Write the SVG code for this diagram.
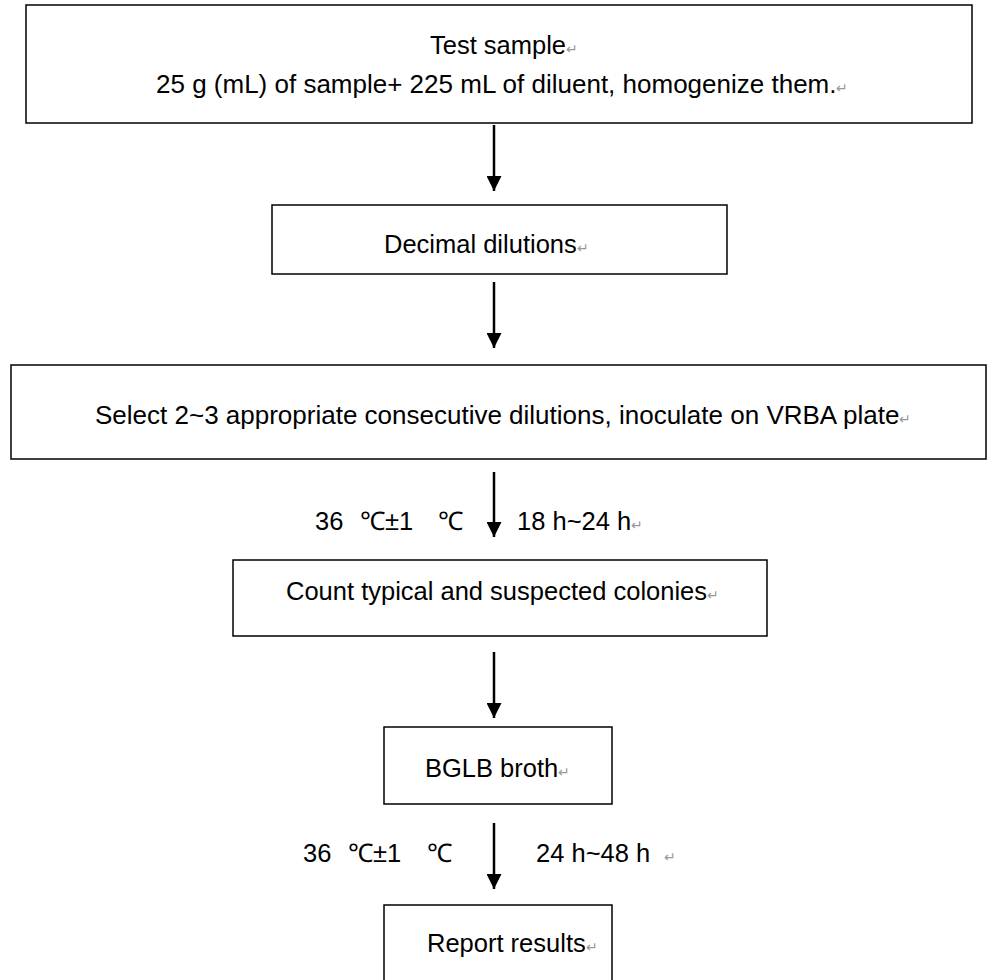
<svg xmlns="http://www.w3.org/2000/svg" width="989" height="980" viewBox="0 0 989 980">
<defs>
<style>
.box{fill:#fff;stroke:#000;stroke-width:1.5}
.t{font-family:"Liberation Sans",Arial,sans-serif;font-size:25.5px;fill:#000}
.w{font-size:26px}
.pm{fill:#999;font-size:14px}
.c{stroke:#000;stroke-width:2.5;fill:none}
</style>
<marker id="ah" viewBox="0 0 10 10" refX="10" refY="5" markerWidth="6" markerHeight="6" markerUnits="strokeWidth" orient="auto">
<path d="M0,0 L10,5 L0,10 Z" fill="#000"/>
</marker>
</defs>
<rect width="989" height="980" fill="#fff"/>
<g id="n1">
<rect class="box" x="26" y="5" width="946" height="118"/>
<text class="t" x="430" y="54">Test sample<tspan class="pm">↵</tspan></text>
<text class="t w" x="156" y="93">25 g (mL) of sample+ 225 mL of diluent, homogenize them.<tspan class="pm">↵</tspan></text>
</g>
<g id="n2">
<rect class="box" x="272" y="205" width="455" height="69"/>
<text class="t" x="384" y="253">Decimal dilutions<tspan class="pm">↵</tspan></text>
</g>
<g id="n3">
<rect class="box" x="11" y="365" width="975" height="94"/>
<text class="t w" x="95" y="424">Select 2~3 appropriate consecutive dilutions, inoculate on VRBA plate<tspan class="pm">↵</tspan></text>
</g>
<g id="n4">
<rect class="box" x="233" y="560" width="534" height="76"/>
<text class="t" x="286" y="600">Count typical and suspected colonies<tspan class="pm">↵</tspan></text>
</g>
<g id="n5">
<rect class="box" x="384" y="727" width="228" height="77"/>
<text class="t" x="425" y="777">BGLB broth<tspan class="pm">↵</tspan></text>
</g>
<g id="n6">
<rect class="box" x="384" y="905" width="228" height="90"/>
<text class="t" x="427" y="952">Report results<tspan class="pm">↵</tspan></text>
</g>
<g id="connectors">
<line class="c" x1="494" y1="125" x2="494" y2="191" marker-end="url(#ah)"/>
<line class="c" x1="494" y1="282" x2="494" y2="348" marker-end="url(#ah)"/>
<line class="c" x1="494" y1="472" x2="494" y2="537" marker-end="url(#ah)"/>
<line class="c" x1="494" y1="652" x2="494" y2="718" marker-end="url(#ah)"/>
<line class="c" x1="494" y1="823" x2="494" y2="889" marker-end="url(#ah)"/>
<text class="t" y="530"><tspan x="315">36</tspan><tspan x="360">℃±1</tspan><tspan x="438">℃</tspan></text>
<text class="t" x="517" y="530">18 h~24 h<tspan class="pm">↵</tspan></text>
<text class="t" y="862"><tspan x="303">36</tspan><tspan x="348">℃±1</tspan><tspan x="427">℃</tspan></text>
<text class="t" y="862"><tspan x="536">24 h~48 h</tspan><tspan class="pm" x="664">↵</tspan></text>
</g>
</svg>
